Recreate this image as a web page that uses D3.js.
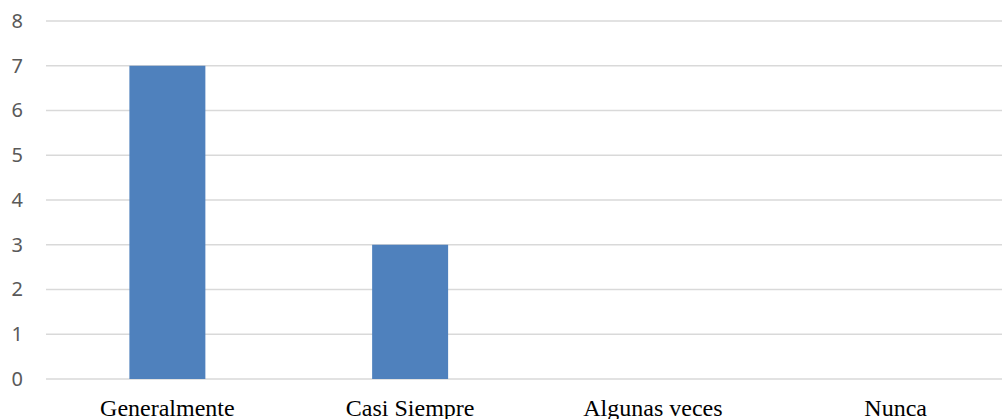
<!DOCTYPE html>
<html><head><meta charset="utf-8">
<script src="https://cdn.jsdelivr.net/npm/d3@7/dist/d3.min.js"></script>
<style>body{margin:0;background:#fff}svg{display:block}</style>
</head><body>
<svg id="c" width="1002" height="419"></svg>
<script>
const categories = ["Generalmente", "Casi Siempre", "Algunas veces", "Nunca"];
const values = [7, 3, 0, 0];
const yTicks = [0, 1, 2, 3, 4, 5, 6, 7, 8];

const svg = d3.select("#c");
const x0 = 46, x1 = 1017, yTop = 21, yBot = 379;
const p = 0.687;
const x = d3.scaleBand().domain(categories).range([x0, x1]).paddingInner(p).paddingOuter(p / 2);
const y = d3.scaleLinear().domain([0, 8]).range([yBot, yTop]);

// gridlines
svg.append("g").selectAll("line").data(yTicks).join("line")
  .attr("x1", x0).attr("x2", x1)
  .attr("y1", d => y(d)).attr("y2", d => y(d))
  .attr("stroke", "#d9d9d9").attr("stroke-width", 1.5);

// y axis labels
const yAxis = d3.axisLeft(y).tickValues(yTicks).tickSize(0).tickPadding(0).tickFormat(d3.format("d"));
const gy = svg.append("g").attr("transform", "translate(23,0)").call(yAxis);
gy.select(".domain").remove();
gy.selectAll("text").attr("fill", "#595959").style("font-family", "'Noto Sans', 'Open Sans', sans-serif").style("font-size", "20px");

// bars
svg.append("g").selectAll("rect").data(categories).join("rect")
  .attr("x", d => x(d)).attr("width", x.bandwidth())
  .attr("y", (d, i) => y(values[i])).attr("height", (d, i) => yBot - y(values[i]))
  .attr("fill", "#4f81bd");

// x axis labels
const xAxis = d3.axisBottom(x).tickSize(0).tickPadding(0);
const gx = svg.append("g").attr("transform", `translate(0,${yBot})`).call(xAxis);
gx.select(".domain").remove();
gx.selectAll("text").attr("fill", "#000").attr("dy", null).attr("y", 37)
  .style("font-family", "'Liberation Serif', 'Times New Roman', serif").style("font-size", "24px");
</script>
</body></html>
